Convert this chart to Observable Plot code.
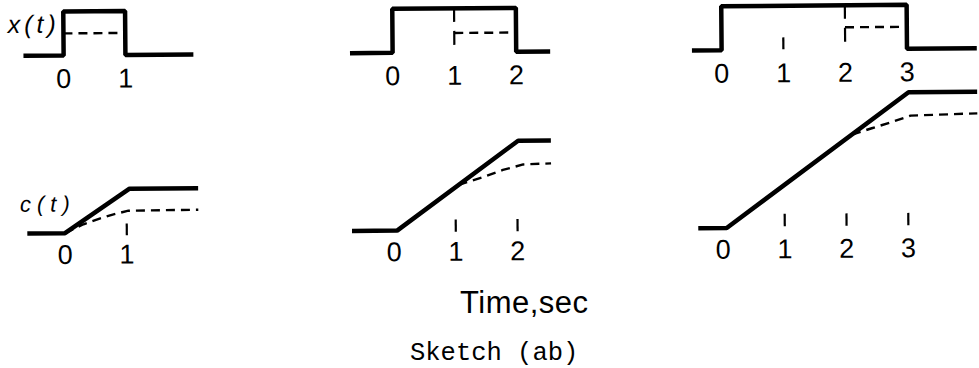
<!DOCTYPE html>
<html>
<head>
<meta charset="utf-8">
<script src="https://cdn.jsdelivr.net/npm/d3@7"></script>
<script src="https://cdn.jsdelivr.net/npm/@observablehq/plot@0.6"></script>
<style>
  html, body { margin: 0; padding: 0; background: #fff; }
  #sketch { position: relative; width: 979px; height: 368px; overflow: hidden; background: #fff; }
  #sketch svg { display: block; }
  /* the hand-drawn sheet sits with a slight counter-clockwise slant */
  #panels { transform: rotate(-0.45deg); transform-origin: 490px 140px; }
  .caption { position: absolute; color: #000; white-space: nowrap; }
  #axis-title { left: 460px; top: 287px; font: 31px/31px "Liberation Sans", sans-serif; letter-spacing: 0.5px; }
  #sketch-title { left: 410px; top: 341px; font: 25.5px/25.5px "Liberation Mono", monospace; }
</style>
</head>
<body>
<div id="sketch">
  <div id="panels"></div>
  <div id="axis-title" class="caption">Time,sec</div>
  <div id="sketch-title" class="caption">Sketch (ab)</div>
</div>
<script>
// Pulse duration of each column, sec
const panels = [1, 2, 3];
const timeDomain = [-1, 4.13];

// Input x(t): corners of the pulse, drawn as a step-after trace
const inputPulse = [
  {panel: 1, t: -0.65, v: 0}, {panel: 1, t: 0, v: 1}, {panel: 1, t: 1, v: 0}, {panel: 1, t: 2.1, v: 0},
  {panel: 2, t: -0.69, v: 0}, {panel: 2, t: 0, v: 1}, {panel: 2, t: 2, v: 0}, {panel: 2, t: 2.55, v: 0},
  {panel: 3, t: -0.48, v: 0}, {panel: 3, t: 0, v: 1}, {panel: 3, t: 3, v: 0}, {panel: 3, t: 4.13, v: 0}
];

// Input x(t): reduced level during the last second (dashed)
const inputHalf = [
  {panel: 1, t: 0, v: 0.5}, {panel: 1, t: 1, v: 0.5},
  {panel: 2, t: 1, v: 0.44}, {panel: 2, t: 2, v: 0.44},
  {panel: 3, t: 2, v: 0.5}, {panel: 3, t: 3, v: 0.5}
];

// Input x(t): dashed time markers
const inputGuides = [
  {panel: 2, t: 1, from: 1, to: 0.1},
  {panel: 3, t: 2, from: 1, to: 0.05},
  {panel: 3, t: 1, from: 0.27, to: 0}
];

// Output c(t): ramp response (solid)
const outputRamp = [
  {panel: 1, t: -0.61, v: 0}, {panel: 1, t: 0, v: 0}, {panel: 1, t: 1.05, v: 1}, {panel: 1, t: 2.16, v: 1},
  {panel: 2, t: -0.68, v: 0}, {panel: 2, t: 0.05, v: 0}, {panel: 2, t: 2.02, v: 2.02}, {panel: 2, t: 2.55, v: 2.02},
  {panel: 3, t: -0.4, v: 0}, {panel: 3, t: 0.06, v: 0}, {panel: 3, t: 3.02, v: 3.05}, {panel: 3, t: 4.13, v: 3.05}
];

// Output c(t): response to the reduced input (dashed)
const outputHalf = [
  {panel: 1, t: 0, v: 0}, {panel: 1, t: 0.3, v: 0.2}, {panel: 1, t: 0.55, v: 0.32},
  {panel: 1, t: 0.76, v: 0.41}, {panel: 1, t: 1.03, v: 0.5}, {panel: 1, t: 2.16, v: 0.51},
  {panel: 2, t: 1.05, v: 1.03}, {panel: 2, t: 1.45, v: 1.2}, {panel: 2, t: 1.77, v: 1.36},
  {panel: 2, t: 2.1, v: 1.48}, {panel: 2, t: 2.55, v: 1.5},
  {panel: 3, t: 2.1, v: 2.1}, {panel: 3, t: 2.42, v: 2.24}, {panel: 3, t: 2.75, v: 2.38},
  {panel: 3, t: 3.05, v: 2.52}, {panel: 3, t: 4.13, v: 2.56}
];

// Output c(t): short dashed time markers
const outputGuides = [
  {panel: 1, t: 1, from: 0.2, to: -0.07},
  {panel: 2, t: 1, from: 0.23, to: -0.05}, {panel: 2, t: 2, from: 0.23, to: -0.05},
  {panel: 3, t: 1, from: 0.3, to: 0.02}, {panel: 3, t: 2, from: 0.3, to: 0.02}, {panel: 3, t: 3, from: 0.3, to: 0.02}
];

// Time tick labels of each column
const timeTicks = [
  {panel: 1, t: 0, label: "0"}, {panel: 1, t: 1, label: "1"},
  {panel: 2, t: 0, label: "0"}, {panel: 2, t: 1, label: "1"}, {panel: 2, t: 2, label: "2"},
  {panel: 3, t: 0, label: "0"}, {panel: 3, t: 1, label: "1"}, {panel: 3, t: 2, label: "2"}, {panel: 3, t: 3, label: "3"}
];

const rowLabels = ["x(t)", "c(t)"];

const solid = {stroke: "#000", strokeWidth: 4.5, strokeLinejoin: "miter", strokeLinecap: "butt"};
const dashed = {stroke: "#000", strokeWidth: 2.4, strokeDasharray: "9,6", strokeLinecap: "butt"};
const guide = {stroke: "#000", strokeWidth: 2.2, strokeDasharray: "14,9"};
const tickFont = {fontSize: 27, fontFamily: "Liberation Sans, sans-serif", fill: "#000"};
const labelFont = {fontFamily: "Liberation Sans, sans-serif", fontStyle: "italic", fill: "#000", textAnchor: "start"};

const common = {
  width: 979,
  marginLeft: 1,
  marginRight: 0,
  fx: {domain: panels, paddingInner: 0.036, paddingOuter: 0, axis: null},
  x: {domain: timeDomain, axis: null}
};

const inputPlot = Plot.plot({
  ...common,
  height: 92,
  marginTop: 1,
  marginBottom: 0,
  y: {domain: [-0.92, 1.15], axis: null},
  marks: [
    Plot.ruleX(inputGuides, {fx: "panel", x: "t", y1: "from", y2: "to", ...guide}),
    Plot.line(inputHalf, {fx: "panel", x: "t", y: "v", ...dashed}),
    Plot.line(inputPulse, {fx: "panel", x: "t", y: "v", curve: "step-after", ...solid}),
    Plot.text(timeTicks, {fx: "panel", x: "t", text: "label", frameAnchor: "bottom", dy: -8, ...tickFont}),
    Plot.text([rowLabels[0]], {fx: () => panels[0], text: d => d, frameAnchor: "top-left",
      lineAnchor: "top", dx: 6, dy: 10, fontSize: 25, ...labelFont})
  ]
});

const outputPlot = Plot.plot({
  ...common,
  height: 177,
  marginTop: 0,
  marginBottom: 0,
  y: {domain: [-0.9, 3.12], axis: null},
  marks: [
    Plot.ruleX(outputGuides, {fx: "panel", x: "t", y1: "from", y2: "to", ...guide}),
    Plot.line(outputHalf, {fx: "panel", x: "t", y: "v", ...dashed}),
    Plot.line(outputRamp, {fx: "panel", x: "t", y: "v", ...solid}),
    Plot.text(timeTicks, {fx: "panel", x: "t", text: "label", frameAnchor: "bottom", dy: -9, ...tickFont}),
    Plot.text([rowLabels[1]], {fx: () => panels[0], text: d => d, frameAnchor: "left",
      lineAnchor: "middle", dx: 17, dy: 20, fontSize: 22, ...labelFont})
  ]
});

const host = document.getElementById("panels");
host.append(inputPlot, outputPlot);

// widen the hand-lettered row labels
host.querySelectorAll("text").forEach(el => {
  if (el.textContent === rowLabels[0]) el.style.letterSpacing = "4px";
  if (el.textContent === rowLabels[1]) el.style.letterSpacing = "6px";
});
</script>
</body>
</html>
